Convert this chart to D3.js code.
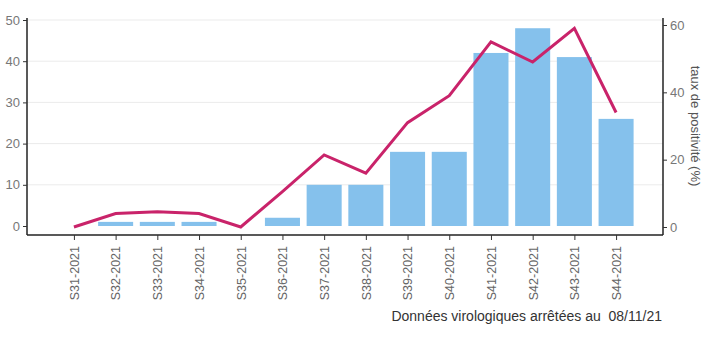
<!DOCTYPE html>
<html><head><meta charset="utf-8">
<script src="https://cdn.jsdelivr.net/npm/d3@7"></script>
<style>body{margin:0;background:#fff;}svg{display:block;font-family:"Liberation Sans",Arial,sans-serif;}</style>
</head><body>
<svg id="c" width="712" height="337"></svg>
<script>
const weeks = ["S31-2021","S32-2021","S33-2021","S34-2021","S35-2021","S36-2021","S37-2021","S38-2021","S39-2021","S40-2021","S41-2021","S42-2021","S43-2021","S44-2021"];
const positifs = [0,1,1,1,0,2,10,10,18,18,42,48,41,26];
const tauxPositivite = [0,4,4.5,4,0,10.5,21.4,16,31,39,55,49,59,34];
const leftTicks = [0,10,20,30,40,50];
const rightTicks = [0,20,40,60];

const svg = d3.select("#c");
const L = 27, R = 663, B = 235;
const x = d3.scalePoint().domain(weeks).range([L, R]).padding(1.125);
const yL = d3.scaleLinear().domain([0,50]).range([226,20]);
const yR = d3.scaleLinear().domain([0,60]).range([227,25]);
const bw = x.step()*0.84;

// grid
svg.append("g").selectAll("line").data(leftTicks.filter(d=>d>0)).join("line")
  .attr("x1",L).attr("x2",R).attr("y1",d=>yL(d)).attr("y2",d=>yL(d))
  .attr("stroke","#ebebeb").attr("stroke-width",1);

// bars
svg.append("g").selectAll("rect").data(weeks.map((w,i)=>({w,v:positifs[i]})).filter(d=>d.v>0)).join("rect")
  .attr("x",d=>x(d.w)-bw/2).attr("width",bw)
  .attr("y",d=>yL(d.v)).attr("height",d=>yL(0)-yL(d.v))
  .attr("fill","#85c1ec");

// line
svg.append("path").datum(weeks.map((w,i)=>[x(w),yR(tauxPositivite[i])]))
  .attr("d",d3.line()).attr("fill","none").attr("stroke","#c9236a").attr("stroke-width",3).attr("stroke-linejoin","miter");

// left axis
const gl = svg.append("g").attr("transform",`translate(${L},0)`).call(d3.axisLeft(yL).tickValues(leftTicks).tickSize(4).tickPadding(3));
gl.select(".domain").attr("d",`M0,${yL(50)-2}V${B}`).attr("stroke","#222").attr("stroke-width",1.5);
gl.selectAll(".tick line").attr("stroke","#333");
gl.selectAll("text").attr("fill","#777").attr("font-size",13).style("font-family","Liberation Sans, Arial, sans-serif");

// right axis
const gr = svg.append("g").attr("transform",`translate(${R},0)`).call(d3.axisRight(yR).tickValues(rightTicks).tickSize(4).tickPadding(3));
gr.select(".domain").attr("d",`M0,${yR(60)-7}V${B}`).attr("stroke","#222").attr("stroke-width",1.5);
gr.selectAll(".tick line").attr("stroke","#333");
gr.selectAll("text").attr("fill","#777").attr("font-size",13).style("font-family","Liberation Sans, Arial, sans-serif");

// bottom axis
const gb = svg.append("g").attr("transform",`translate(0,${B})`).call(d3.axisBottom(x).tickSize(5).tickPadding(3));
gb.select(".domain").attr("d",`M${L},0H${R}`).attr("stroke","#222").attr("stroke-width",1.5);
gb.selectAll(".tick line").attr("stroke","#333");
gb.selectAll("text").attr("fill","#666").attr("font-size",12.5).style("font-family","Liberation Sans, Arial, sans-serif")
  .attr("transform","rotate(-90)").attr("text-anchor","end").attr("dy","0.35em").attr("x",-11).attr("y",0);

// right label
svg.append("text").attr("transform","translate(691,126) rotate(90)").attr("text-anchor","middle")
  .attr("fill","#555").attr("font-size",13).text("taux de positivité (%)");

// caption
svg.append("text").attr("x",662).attr("y",321).attr("text-anchor","end")
  .attr("fill","#333").attr("font-size",14).attr("xml:space","preserve").text("Données virologiques arrêtées au  08/11/21");
</script>
</body></html>
